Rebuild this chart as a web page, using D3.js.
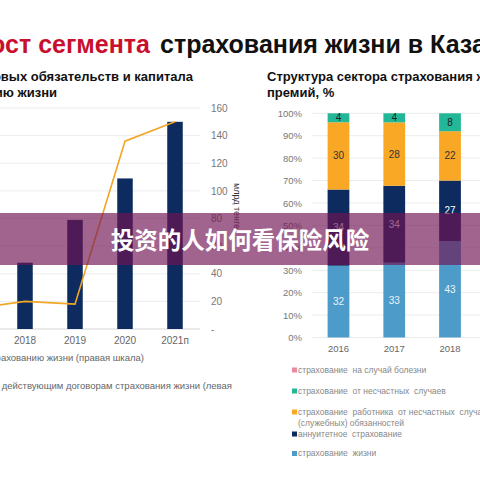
<!DOCTYPE html>
<meta charset="utf-8">
<html>
<head>
<style>
body { margin: 0; background: #fff; }
svg { display: block; font-family: "Liberation Sans", Arial, sans-serif; }
</style>
</head>
<body>
<svg width="480" height="480"></svg>
<script src="https://cdn.jsdelivr.net/npm/d3@7/dist/d3.min.js"></script>
<script>

// left chart: reserves (line, right scale) and obligations (bars)
var leftYears = ["2017", "2018", "2019", "2020", "2021п"];
var obligations = [null, 48, 79, 109, 150];
var reserves = [15, 20, 18, 136, 150];
var leftTicks = [0, 20, 40, 60, 80, 100, 120, 140, 160];

// right chart: premium structure, %
var rightYears = ["2016", "2017", "2018"];
var lifeIns = [32, 33, 43];
var annuity = [34, 34, 27];
var workerIns = [30, 28, 22];
var accidentIns = [4, 4, 8];
var pctTicks = [0, 0.1, 0.2, 0.3, 0.4, 0.5, 0.6, 0.7, 0.8, 0.9, 1];

var legendNames = ["страхование  на случай болезни", "страхование  от несчастных  случаев",
  "страхование  работника  от несчастных  случаев при исполнении трудовых", "аннуитетное  страхование", "страхование  жизни"];

var navy = "#0d2b5e", orange = "#f9a825", teal = "#22b797", blue = "#4c9bc8", pink = "#e88aa2";

var svg = d3.select("svg");

// title
svg.append("text").attr("x", 150).attr("y", 53).attr("text-anchor", "end")
  .style("font-size", "25px").style("font-weight", "bold").style("fill", "#c8102e")
  .text("Рост сегмента");
svg.append("text").attr("x", 160).attr("y", 53)
  .style("font-size", "25px").style("font-weight", "bold").style("fill", "#111")
  .text("страхования жизни в Казахстане");

// subtitles
svg.append("text").attr("x", 193).attr("y", 81).attr("text-anchor", "end")
  .style("font-size", "13px").style("font-weight", "bold").style("fill", "#111")
  .text("Рост страховых обязательств и капитала");
svg.append("text").attr("x", 57).attr("y", 97).attr("text-anchor", "end")
  .style("font-size", "13px").style("font-weight", "bold").style("fill", "#111")
  .text("по страхованию жизни");
svg.append("text").attr("x", 267).attr("y", 81)
  .style("font-size", "13px").style("font-weight", "bold").style("fill", "#111")
  .text("Структура сектора страхования жизни по объёму");
svg.append("text").attr("x", 267).attr("y", 97)
  .style("font-size", "13px").style("font-weight", "bold").style("fill", "#111")
  .text("премий, %");

// ---- left chart
var xL = d3.scaleBand().domain(leftYears).range([-50, 200]).paddingInner(0.69).paddingOuter(0.345);
var yR = d3.scaleLinear().domain([0, 160]).range([329, 108]);

svg.append("g").selectAll("line").data(leftTicks).enter().append("line")
  .attr("x1", 0).attr("x2", 200)
  .attr("y1", function(d) { return yR(d); }).attr("y2", function(d) { return yR(d); })
  .attr("stroke", function(d) { return d === 0 ? "#d4d4d4" : "#ececec"; });

var axR = svg.append("g").attr("transform", "translate(205,0)")
  .call(d3.axisRight(yR).tickValues(leftTicks).tickSize(0).tickPadding(6)
    .tickFormat(function(d) { return d === 0 ? "-" : d; }));
axR.select(".domain").remove();
axR.selectAll("text").style("font-size", "10px").style("fill", "#777").style("font-family", "Liberation Sans, Arial");

svg.append("text").attr("transform", "translate(234,183) rotate(90)")
  .style("font-size", "9px").style("fill", "#333").text("млрд тенге");

var barsL = leftYears.map(function(y, i) { return { year: y, v: obligations[i] }; })
  .filter(function(d) { return d.v !== null; });
svg.append("g").selectAll("rect").data(barsL).enter().append("rect")
  .attr("x", function(d) { return xL(d.year); })
  .attr("width", xL.bandwidth())
  .attr("y", function(d) { return yR(d.v); })
  .attr("height", function(d) { return yR(0) - yR(d.v); })
  .attr("fill", navy);

var line = d3.line()
  .x(function(d, i) { return xL(leftYears[i]) + xL.bandwidth() / 2; })
  .y(function(d) { return yR(d); });
svg.append("path").datum(reserves).attr("d", line)
  .attr("fill", "none").attr("stroke", "#f2a626").attr("stroke-width", 1.6);

var axL = svg.append("g").attr("transform", "translate(0,329)")
  .call(d3.axisBottom(xL).tickSize(0).tickPadding(8));
axL.select(".domain").remove();
axL.selectAll("text").style("font-size", "10px").style("fill", "#666").style("font-family", "Liberation Sans, Arial");

svg.append("text").attr("x", 144).attr("y", 361).attr("text-anchor", "end")
  .style("font-size", "9.5px").style("fill", "#666")
  .text("Страховые резервы по страхованию жизни (правая шкала)");
svg.append("text").attr("x", 232).attr("y", 389).attr("text-anchor", "end")
  .style("font-size", "9.5px").style("fill", "#666")
  .text("Обязательства по действующим договорам страхования жизни (левая");

// ---- right chart
var xS = d3.scaleBand().domain(rightYears).range([310.6, 477.9]).paddingInner(0.61).paddingOuter(0.305);
var yS = d3.scaleLinear().domain([0, 1]).range([337.5, 113.3]);

svg.append("g").selectAll("line").data(pctTicks).enter().append("line")
  .attr("x1", 312).attr("x2", 480)
  .attr("y1", function(d) { return yS(d); }).attr("y2", function(d) { return yS(d); })
  .attr("stroke", "#ececec");

var axS = svg.append("g").attr("transform", "translate(304,0)")
  .call(d3.axisLeft(yS).tickValues(pctTicks).tickSize(0).tickPadding(2)
    .tickFormat(function(d) { return Math.round(d * 100) + "%"; }));
axS.select(".domain").remove();
axS.selectAll("text").style("font-size", "9.5px").style("fill", "#777").style("font-family", "Liberation Sans, Arial");

var rows = rightYears.map(function(y, i) {
  return { year: y, life: lifeIns[i], annuity: annuity[i], worker: workerIns[i], accident: accidentIns[i] };
});
var keys = ["life", "annuity", "worker", "accident"];
var colors = { life: blue, annuity: navy, worker: orange, accident: teal };
var labelColors = { life: "#eef4fa", annuity: "#fff", worker: "#333", accident: "#222" };
var series = d3.stack().keys(keys).offset(d3.stackOffsetExpand)(rows);

var seg = svg.append("g").selectAll("g").data(series).enter().append("g")
  .attr("fill", function(d) { return colors[d.key]; });
seg.selectAll("rect").data(function(d) { return d; }).enter().append("rect")
  .attr("x", function(d) { return xS(d.data.year); })
  .attr("width", xS.bandwidth())
  .attr("y", function(d) { return yS(d[1]); })
  .attr("height", function(d) { return yS(d[0]) - yS(d[1]); });

series.forEach(function(s) {
  svg.append("g").selectAll("text").data(s).enter().append("text")
    .attr("x", function(d) { return xS(d.data.year) + xS.bandwidth() / 2; })
    .attr("y", function(d) { return yS((d[0] + d[1]) / 2); })
    .attr("dy", "0.35em").attr("text-anchor", "middle")
    .style("font-size", "10px").style("fill", labelColors[s.key])
    .text(function(d) { return d.data[s.key]; });
});

var axSx = svg.append("g").attr("transform", "translate(0,337.5)")
  .call(d3.axisBottom(xS).tickSize(0).tickPadding(8));
axSx.select(".domain").remove();
axSx.selectAll("text").style("font-size", "9.5px").style("fill", "#666").style("font-family", "Liberation Sans, Arial");

// legend
var legendColors = [pink, teal, orange, navy, blue];
var legendY = [370, 391, 412, 434, 453.5];
var lg = svg.append("g").selectAll("g").data(legendNames).enter().append("g")
  .attr("transform", function(d, i) { return "translate(292," + legendY[i] + ")"; });
lg.append("rect").attr("x", 0).attr("y", -2.5).attr("width", 5).attr("height", 5)
  .attr("fill", function(d, i) { return legendColors[i]; });
lg.append("text").attr("x", 6).attr("dy", "0.35em")
  .style("font-size", "8.5px").style("fill", "#888").style("white-space", "pre")
  .text(function(d) { return d; });
svg.append("text").attr("x", 298).attr("y", 423).attr("dy", "0.35em")
  .style("font-size", "8.5px").style("fill", "#888")
  .text("(служебных) обязанностей");

// banner overlay
svg.append("rect").attr("x", 0).attr("y", 213).attr("width", 480).attr("height", 52)
  .attr("fill", "rgb(112,20,84)").attr("fill-opacity", 0.66);
svg.append("text").attr("x", 240).attr("y", 241).attr("dy", "0.35em").attr("text-anchor", "middle")
  .style("font-family", "'Noto Sans CJK SC', sans-serif").style("font-size", "23.5px")
  .style("font-weight", "bold").style("fill", "#fff")
  .text("投资的人如何看保险风险");

</script>
</body>
</html>
